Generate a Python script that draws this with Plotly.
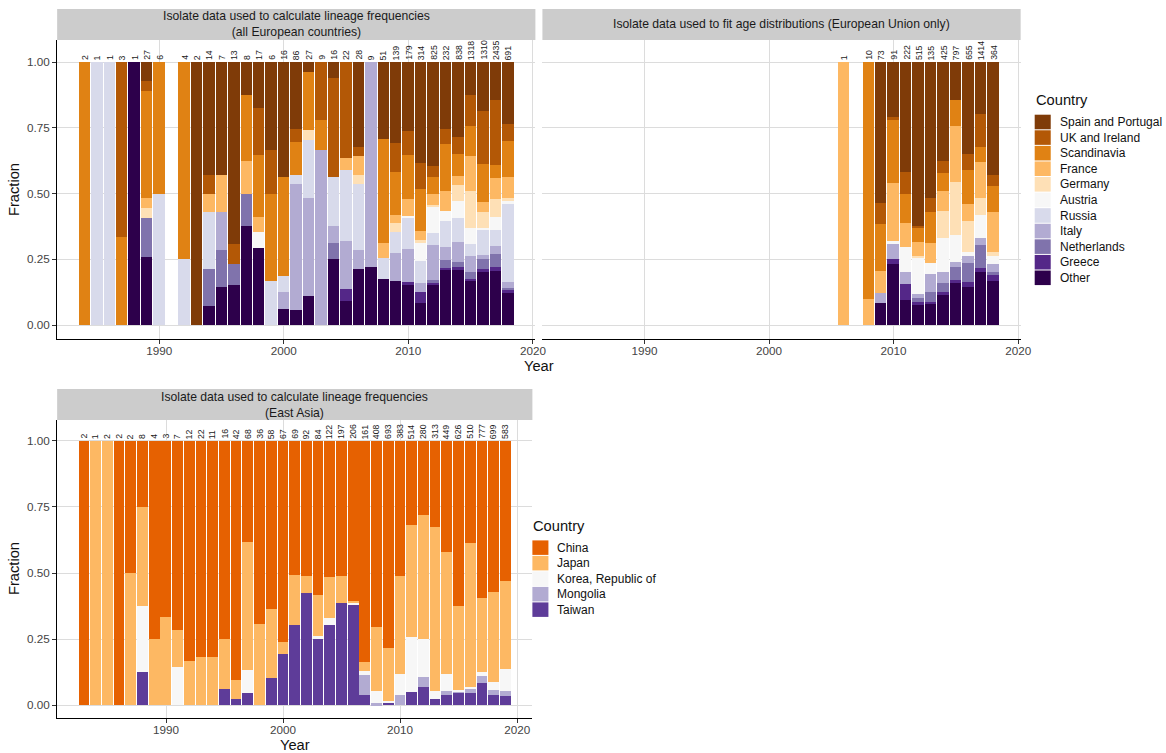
import plotly.graph_objects as go

W, H = 1166, 753
XS = 1152.0   # horizontal design width (the page renders ~1.2% narrower)
FONT = "Liberation Sans, Arial, Helvetica, sans-serif"

# ---------------- data ----------------
eu_countries = ["Spain and Portugal", "UK and Ireland", "Scandinavia", "France", "Germany",
                "Austria", "Russia", "Italy", "Netherlands", "Greece", "Other"]
eu_colors = ["#7F3B08", "#B35806", "#E08214", "#FDB863", "#FEE0B6",
             "#F7F7F7", "#D8DAEB", "#B2ABD2", "#8073AC", "#542788", "#2D004B"]

# Panel 1: all European countries (isolate counts per year)
all_years = [1984, 1985, 1986, 1987, 1988, 1989, 1990, 1992, 1993, 1994, 1995, 1996, 1997, 1998,
             1999, 2000, 2001, 2002, 2003, 2004, 2005, 2006, 2007, 2008, 2009, 2010, 2011, 2012,
             2013, 2014, 2015, 2016, 2017, 2018]
all_spain = [0, 0, 0, 0, 0, 2, 0, 0, 2, 6, 3, 9, 1, 3, 2, 7, 22, 1, 0, 1, 0, 9, 0, 15, 43, 47, 120, 325, 59, 239, 165, 244, 351, 163]
all_uk = [0, 0, 0, 2, 0, 1, 0, 0, 0, 1, 0, 1, 0, 3, 1, 0, 4, 0, 2, 6, 8, 1, 0, 0, 15, 16, 32, 37, 13, 54, 156, 265, 604, 44]
all_scand = [2, 0, 0, 1, 0, 11, 3, 3, 0, 0, 0, 0, 2, 4, 2, 6, 11, 6, 1, 0, 0, 0, 0, 20, 23, 30, 50, 51, 42, 70, 150, 189, 117, 95]
all_france = [0, 0, 0, 0, 0, 1, 0, 0, 0, 1, 1, 0, 1, 1, 0, 0, 0, 0, 0, 0, 1, 2, 0, 3, 4, 12, 11, 35, 17, 29, 175, 50, 197, 55]
all_germany = [0, 0, 0, 0, 0, 1, 0, 0, 0, 0, 0, 0, 0, 0, 0, 0, 0, 1, 0, 0, 0, 1, 0, 0, 5, 0, 2, 6, 0, 51, 186, 80, 166, 8]
all_austria = [0, 0, 0, 0, 0, 0, 0, 0, 0, 0, 0, 0, 0, 1, 0, 0, 0, 0, 0, 0, 0, 0, 0, 0, 0, 1, 22, 82, 9, 54, 80, 6, 122, 8]
all_russia = [0, 1, 1, 0, 0, 0, 3, 1, 0, 3, 0, 0, 0, 0, 1, 1, 3, 6, 0, 3, 6, 7, 0, 4, 11, 21, 27, 38, 23, 76, 61, 128, 149, 205]
all_italy = [0, 0, 0, 0, 0, 0, 0, 0, 0, 0, 1, 0, 0, 0, 0, 1, 41, 10, 6, 1, 4, 2, 7, 0, 15, 23, 10, 110, 12, 64, 79, 20, 73, 15]
all_neth = [0, 0, 0, 0, 0, 4, 0, 0, 0, 2, 1, 1, 1, 0, 0, 0, 0, 0, 0, 1, 0, 0, 0, 0, 0, 0, 0, 9, 7, 16, 36, 50, 119, 6]
all_greece = [0, 0, 0, 0, 0, 0, 0, 0, 0, 0, 0, 0, 0, 0, 0, 0, 0, 0, 0, 0, 1, 0, 0, 0, 0, 2, 14, 7, 1, 10, 5, 14, 39, 8]
all_other = [0, 0, 0, 0, 1, 7, 0, 0, 0, 1, 1, 2, 3, 5, 0, 1, 5, 3, 0, 4, 2, 6, 2, 9, 23, 27, 26, 125, 49, 175, 225, 264, 498, 84]

# Panel 2: European Union only
eu_years = [2006, 2008, 2009, 2010, 2011, 2012, 2013, 2014, 2015, 2016, 2017, 2018]
eu_spain = [0, 0, 39, 19, 93, 322, 70, 160, 115, 229, 280, 157]
eu_uk = [0, 0, 6, 1, 18, 4, 7, 20, 0, 40, 177, 15]
eu_scand = [0, 9, 13, 22, 25, 27, 16, 28, 79, 85, 81, 36]
eu_france = [1, 1, 6, 20, 20, 26, 10, 32, 169, 43, 194, 55]
eu_germany = [0, 0, 0, 0, 0, 4, 0, 45, 161, 75, 92, 5]
eu_austria = [0, 0, 0, 1, 21, 71, 6, 54, 81, 12, 123, 12]
eu_russia = [0, 0, 0, 0, 0, 0, 0, 0, 0, 0, 0, 0]
eu_italy = [0, 0, 3, 5, 10, 8, 9, 18, 15, 17, 38, 10]
eu_neth = [0, 0, 0, 0, 0, 8, 5, 14, 40, 48, 123, 5]
eu_greece = [0, 0, 0, 2, 14, 6, 1, 6, 9, 12, 21, 8]
eu_other = [0, 0, 6, 21, 21, 39, 11, 48, 128, 94, 285, 61]

# Panel 3: East Asia
asia_countries = ["China", "Japan", "Korea, Republic of", "Mongolia", "Taiwan"]
asia_colors = ["#E66101", "#FDB863", "#F7F7F7", "#B2ABD2", "#5E3C99"]
asia_years = list(range(1983, 2020))
asia_china = [2, 0, 0, 2, 1, 2, 3, 2, 5, 10, 18, 9, 12, 38, 26, 25, 37, 51, 35, 47, 49, 63, 101, 125,
              135, 288, 543, 196, 164, 78, 102, 189, 391, 197, 462, 400, 309]
asia_japan = [0, 1, 2, 0, 1, 3, 1, 1, 1, 2, 4, 2, 3, 3, 33, 11, 15, 3, 13, 6, 13, 19, 20, 1,
              5, 99, 139, 142, 218, 132, 194, 207, 199, 278, 218, 238, 195]
asia_korea = [0, 0, 0, 0, 0, 2, 0, 0, 1, 0, 0, 0, 0, 0, 6, 0, 0, 0, 0, 0, 1, 3, 0, 2,
              3, 18, 5, 30, 107, 40, 10, 29, 3, 4, 12, 21, 48]
asia_mongolia = [0, 0, 0, 0, 0, 0, 0, 0, 0, 0, 0, 0, 0, 0, 0, 0, 0, 0, 0, 0, 0, 0, 0, 0,
                 12, 3, 0, 15, 0, 11, 0, 7, 5, 8, 21, 13, 11]
asia_taiwan = [0, 0, 0, 0, 0, 1, 0, 0, 0, 0, 0, 0, 1, 1, 3, 0, 6, 13, 21, 39, 21, 37, 76, 78,
               6, 0, 6, 0, 25, 19, 7, 17, 28, 23, 64, 27, 20]

all_series = [all_spain, all_uk, all_scand, all_france, all_germany, all_austria,
              all_russia, all_italy, all_neth, all_greece, all_other]
eu_series = [eu_spain, eu_uk, eu_scand, eu_france, eu_germany, eu_austria,
             eu_russia, eu_italy, eu_neth, eu_greece, eu_other]
asia_series = [asia_china, asia_japan, asia_korea, asia_mongolia, asia_taiwan]

strip_titles = ["Isolate data used to calculate lineage frequencies<br>(all European countries)",
                "Isolate data used to fit age distributions (European Union only)",
                "Isolate data used to calculate lineage frequencies<br>(East Asia)"]

# ---------------- figure ----------------
fig = go.Figure()
BAR_W = 0.92


def add_panel(years, series, names, colors, xa, ya):
    # ggplot stacks the first level on top -> add traces from last to first
    for name, col, vals in reversed(list(zip(names, colors, series))):
        if sum(vals) == 0:
            continue
        fig.add_trace(go.Bar(x=years, y=vals, name=name, marker=dict(color=col, line=dict(width=0)),
                             width=BAR_W, xaxis=xa, yaxis=ya, showlegend=False))
    totals = [sum(s[i] for s in series) for i in range(len(years))]
    for yr, tot in zip(years, totals):
        fig.add_annotation(x=yr, y=1.0, xref=xa, yref=ya, text=str(tot), showarrow=False,
                           textangle=-90, xanchor="center", yanchor="bottom", yshift=0,
                           font=dict(size=8.7, color="#1a1a1a", family=FONT))


add_panel(all_years, all_series, eu_countries, eu_colors, "x", "y")
add_panel(eu_years, eu_series, eu_countries, eu_colors, "x2", "y2")
add_panel(asia_years, asia_series, asia_countries, asia_colors, "x3", "y3")


def px(x):
    return x / XS


def py(y):
    return 1 - y / H


tickfont = dict(size=11.7, color="#444444", family=FONT)
common_x = dict(tickvals=[1990, 2000, 2010, 2020], ticks="outside", ticklen=4, tickcolor="#333333",
                showline=True, linecolor="black", linewidth=1.1, showgrid=True, gridcolor="#DCDCDC",
                gridwidth=1, zeroline=False, tickfont=tickfont, fixedrange=True,
                ticklabelstandoff=-3)
common_y = dict(tickvals=[0, 0.25, 0.5, 0.75, 1.0], ticktext=["0.00", "0.25", "0.50", "0.75", "1.00"],
                showgrid=True, gridcolor="#DCDCDC", gridwidth=1, zeroline=False, tickfont=tickfont,
                fixedrange=True)

top_dom = [py(339), py(40)]
bot_dom = [py(718), py(420)]
yr_top = [-0.0532, 1.0837]
yr_bot = [-0.0492, 1.0795]

fig.update_layout(
    width=W, height=H, autosize=False,
    margin=dict(l=0, r=0, t=0, b=0),
    paper_bgcolor="white", plot_bgcolor="white",
    barmode="stack", barnorm="fraction", bargap=0,
    font=dict(family=FONT, color="#1a1a1a"),
    showlegend=False,
    xaxis=dict(domain=[px(57), px(534)], range=[1981.8, 2020.2], anchor="y", **common_x),
    yaxis=dict(domain=top_dom, range=yr_top, anchor="x", ticks="outside", ticklen=4,
               tickcolor="#333333", showline=True, linecolor="black", linewidth=1.1, **common_y),
    xaxis2=dict(domain=[px(541), px(1018)], range=[1981.8, 2020.2], anchor="y2", **common_x),
    yaxis2=dict(domain=top_dom, range=yr_top, anchor="x2", ticks="", showticklabels=False,
                showline=False, **common_y),
    xaxis3=dict(domain=[px(57), px(531)], range=[1980.7, 2021.3], anchor="y3", **common_x),
    yaxis3=dict(domain=bot_dom, range=yr_bot, anchor="x3", ticks="outside", ticklen=4,
                tickcolor="#333333", showline=True, linecolor="black", linewidth=1.1, **common_y),
)

# strips (facet titles)
strips = [(57, 534, 9, 40), (541, 1018, 9, 40), (57, 531, 389, 420)]
for (x0, x1, y0, y1), title in zip(strips, strip_titles):
    fig.add_shape(type="rect", xref="paper", yref="paper", x0=px(x0), x1=px(x1), y0=py(y1), y1=py(y0),
                  fillcolor="#CCCCCC", line=dict(width=0), layer="below")
    fig.add_annotation(x=px((x0 + x1) / 2), y=py((y0 + y1) / 2), xref="paper", yref="paper",
                       text=title, showarrow=False, xanchor="center", yanchor="middle",
                       font=dict(size=12.2, color="#1a1a1a", family=FONT))

# axis titles
for (x, y, txt, ang) in [(538, 366, "Year", 0), (294, 745, "Year", 0),
                         (14, 190, "Fraction", -90), (14, 569, "Fraction", -90)]:
    fig.add_annotation(x=px(x), y=py(y), xref="paper", yref="paper", text=txt, showarrow=False,
                       textangle=ang, xanchor="center", yanchor="middle",
                       font=dict(size=14.7, color="#111111", family=FONT))


# legends (ggplot-style keys)
def draw_legend(x_key, y_title, y_first, step, names, colors):
    fig.add_annotation(x=px(x_key - 1), y=py(y_title), xref="paper", yref="paper", text="Country",
                       showarrow=False, xanchor="left", yanchor="middle",
                       font=dict(size=14.7, color="#111111", family=FONT))
    for i, (name, col) in enumerate(zip(names, colors)):
        top = y_first + i * step
        fig.add_shape(type="rect", xref="paper", yref="paper", x0=px(x_key), x1=px(x_key + 16),
                      y0=py(top + step - 0.6), y1=py(top + 0.4), fillcolor=col, line=dict(width=0))
        fig.add_annotation(x=px(x_key + 23), y=py(top + step / 2), xref="paper", yref="paper",
                           text=name, showarrow=False, xanchor="left", yanchor="middle",
                           font=dict(size=12.0, color="#111111", family=FONT))


draw_legend(1032, 100, 114.3, 15.58, eu_countries, eu_colors)
draw_legend(531, 526, 540, 15.5, asia_countries, asia_colors)

post = ("document.documentElement.style.overflow='hidden';"
        "document.body.style.overflow='hidden';document.body.style.margin='0';")

fig.write_html("out.html", config={"responsive": False}, post_script=post)
